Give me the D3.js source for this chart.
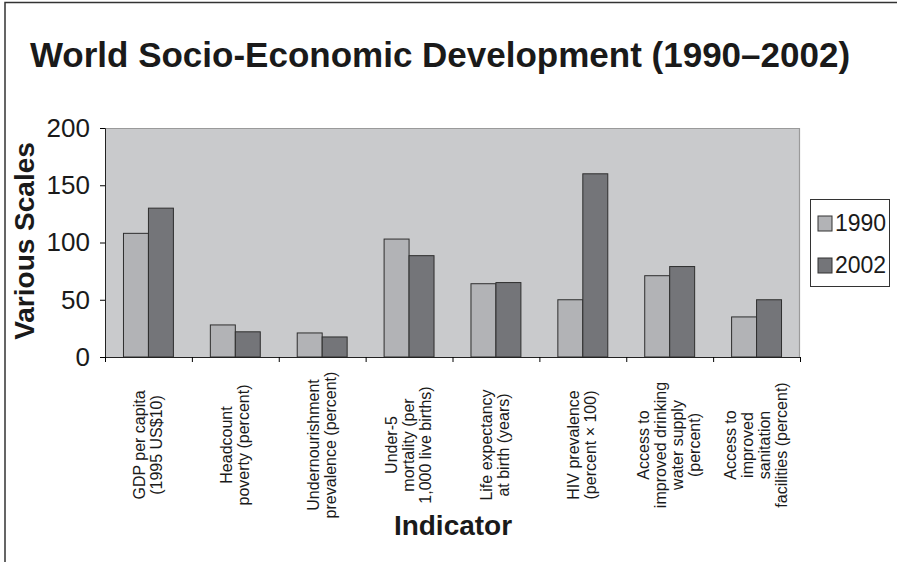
<!DOCTYPE html>
<html>
<head>
<meta charset="utf-8">
<script src="https://cdn.jsdelivr.net/npm/d3@7"></script>
<style>
  body { margin: 0; background: #fff; }
  text { font-family: "Liberation Sans", Arial, sans-serif; fill: #1a1a1a; }
</style>
</head>
<body>
<div id="chart"></div>
<script>
// data
const categories = [
  ['GDP per capita', '(1995 US$10)'],
  ['Headcount', 'poverty (percent)'],
  ['Undernourishment', 'prevalence (percent)'],
  ['Under-5', 'mortality (per', '1,000 live births)'],
  ['Life expectancy', 'at birth (years)'],
  ['HIV prevalence', '(percent \u00d7 100)'],
  ['Access to', 'improved drinking', 'water supply', '(percent)'],
  ['Access to', 'improved', 'sanitation', 'facilities (percent)']
]
const seriesNames = ['1990', '2002']
const values1990 = [108, 28, 21, 103, 64, 50, 71, 35]
const values2002 = [130, 22, 17.5, 88.5, 65, 160, 79, 50]
const yTicks = [0, 50, 100, 150, 200]

const width = 897, height = 562
const plot = { left: 105, top: 128, right: 800, bottom: 357 }
const colors = { '1990': '#b2b3b6', '2002': '#747579' }

const svg = d3.select('#chart').append('svg')
    .attr('width', width)
    .attr('height', height)

// outer frame (only top and left edges show)
svg.append('path')
    .attr('d', 'M5,562V2.5H897')
    .attr('fill', 'none')
    .attr('stroke', '#333')
    .attr('stroke-width', 1.5)

svg.append('text')
    .attr('x', 440)
    .attr('y', 67)
    .attr('text-anchor', 'middle')
    .style('font-size', '35px')
    .attr('font-weight', 'bold')
    .text('World Socio-Economic Development (1990\u20132002)')

const W = plot.right - plot.left, H = plot.bottom - plot.top
const g = svg.append('g').attr('transform', 'translate(' + plot.left + ',' + plot.top + ')')

const idx = d3.range(categories.length)
const x0 = d3.scaleBand().domain(idx).range([0, W]).padding(0)
const x1 = d3.scaleBand().domain(seriesNames).range([0, x0.bandwidth()])
    .paddingInner(0).paddingOuter(0.74)
const y = d3.scaleLinear().domain([0, 200]).range([H, 0])

// plot background
g.append('rect')
    .attr('width', W)
    .attr('height', H)
    .attr('fill', '#c9cacc')
g.append('path')
    .attr('d', 'M0,0.5H' + (W - 0.5) + 'V' + H)
    .attr('fill', 'none')
    .attr('stroke', '#9a9a9a')
    .attr('stroke-width', 1.2)

// bars
const rows = idx.map(i => ({ i: i, vals: [values1990[i], values2002[i]] }))
const groups = g.selectAll('.grp')
    .data(rows)
    .enter()
    .append('g')
    .attr('class', 'grp')
    .attr('transform', d => 'translate(' + x0(d.i) + ',0)')
groups.selectAll('rect')
    .data(d => d.vals.map((v, k) => ({ s: seriesNames[k], v: v })))
    .enter()
    .append('rect')
    .attr('x', d => x1(d.s))
    .attr('y', d => y(d.v))
    .attr('width', x1.bandwidth())
    .attr('height', d => H - y(d.v))
    .attr('fill', d => colors[d.s])
    .attr('stroke', '#2e2e2e')
    .attr('stroke-width', 1)

// y axis
const yAxis = g.append('g')
    .call(d3.axisLeft(y).tickValues(yTicks).tickSize(5).tickPadding(10))
yAxis.selectAll('text')
    .style('font-size', '26px')
    .style('font-family', '"Liberation Sans", Arial, sans-serif')
    .attr('fill', '#1a1a1a')
yAxis.select('.domain').attr('stroke', '#222')

// x axis with ticks on category boundaries
const xb = d3.scaleLinear().domain([0, categories.length]).range([0, W])
const xAxis = g.append('g')
    .attr('transform', 'translate(0,' + H + ')')
    .call(d3.axisBottom(xb).ticks(categories.length).tickSize(5).tickFormat(''))
xAxis.select('.domain').attr('stroke', '#222')

// category labels, rotated
const lineGap = 17
const labels = g.selectAll('.cat')
    .data(categories)
    .enter()
    .append('text')
    .attr('class', 'cat')
    .attr('transform', (d, i) => 'translate(' + (x0(i) + x0.bandwidth() / 2) + ',' + (445 - plot.top) + ') rotate(-90)')
    .attr('text-anchor', 'middle')
    .style('font-size', '16px')
labels.selectAll('tspan')
    .data(d => d)
    .enter()
    .append('tspan')
    .attr('x', 0)
    .attr('y', (d, k, n) => (k - (n.length - 1) / 2) * lineGap + 5)
    .text(d => d)

// axis titles
svg.append('text')
    .attr('transform', 'translate(34,241) rotate(-90)')
    .attr('text-anchor', 'middle')
    .style('font-size', '28px')
    .attr('font-weight', 'bold')
    .text('Various Scales')

svg.append('text')
    .attr('x', 453)
    .attr('y', 535)
    .attr('text-anchor', 'middle')
    .style('font-size', '28px')
    .attr('font-weight', 'bold')
    .text('Indicator')

// legend
const legend = svg.append('g').attr('transform', 'translate(810,199)')
legend.append('rect')
    .attr('x', 0.5)
    .attr('y', 0.5)
    .attr('width', 79)
    .attr('height', 87)
    .attr('fill', '#fff')
    .attr('stroke', '#333')
const items = legend.selectAll('.item')
    .data(seriesNames)
    .enter()
    .append('g')
    .attr('class', 'item')
    .attr('transform', (d, i) => 'translate(8,' + (17 + i * 42) + ')')
items.append('rect')
    .attr('width', 14)
    .attr('height', 15)
    .attr('fill', d => colors[d])
    .attr('stroke', '#333')
items.append('text')
    .attr('x', 17)
    .attr('y', 15)
    .style('font-size', '23px')
    .text(d => d)
</script>
</body>
</html>
